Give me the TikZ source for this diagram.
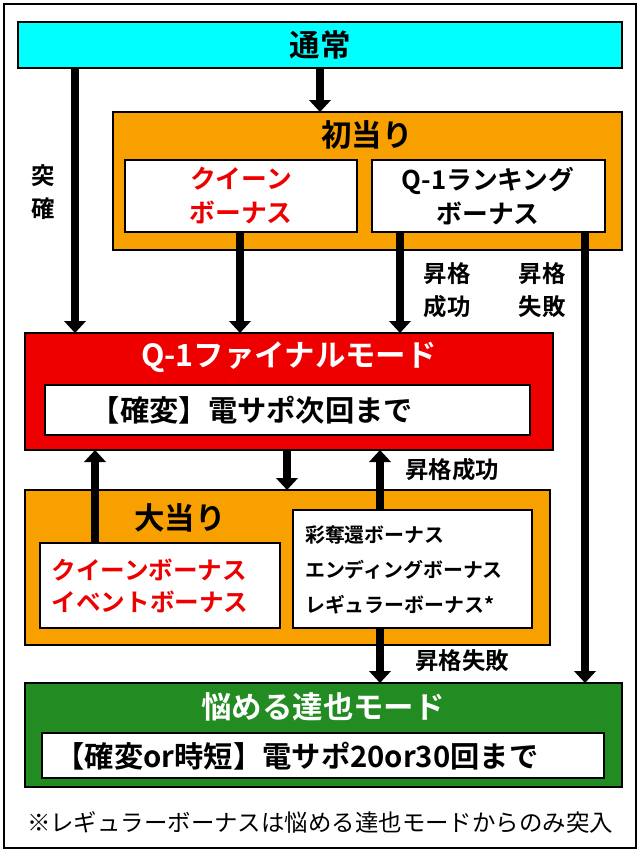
\documentclass[tikz,border=0pt]{standalone}
\usepackage{fontspec}
\setmainfont{Noto Sans CJK JP}[BoldFont={Noto Sans CJK JP Bold}]
\usetikzlibrary{arrows.meta}
\definecolor{qcyan}{RGB}{0,255,255}
\definecolor{qorange}{RGB}{247,160,0}
\definecolor{qred}{RGB}{238,0,0}
\definecolor{qgreen}{RGB}{34,139,34}
\tikzset{
  panel/.style={draw=black, line width=0.6mm, inner sep=0pt},
  inbox/.style={draw=black, line width=0.45mm, fill=white, inner sep=0pt},
  title/.style={font=\fontsize{26}{30}\selectfont\bfseries},
  body/.style={font=\fontsize{22}{29}\selectfont\bfseries, align=center},
  flow/.style={line width=2.2mm, -{Triangle[length=3.6mm,width=6.4mm]}},
  lab/.style={font=\fontsize{20}{28}\selectfont\bfseries, align=center}
}
\begin{document}
\begin{tikzpicture}[x=0.3mm,y=-0.3mm]
\useasboundingbox (0,0) rectangle (640,852);
\fill[white] (0,0) rectangle (640,852);
\draw[line width=0.8mm] (4,4) rectangle (636,848);

% boxes
\draw[panel, fill=qcyan] (18,22) rectangle (622,68);
\node[title] (normal) at (320,45) {通常};
\draw[panel, fill=qorange] (113,112) rectangle (622,250);
\node[title] (first) at (367,135) {初当り};
\draw[inbox] (125,160) rectangle (357,232);
\node[body, text=qred] (queen) at (241,196) {クイーン\\ボーナス};
\draw[inbox] (372,160) rectangle (605,232);
\node[body] (rank) at (488,196) {Q-1ランキング\\ボーナス};

\draw[panel, fill=qred] (25,333) rectangle (553,450);
\node[title, text=white] (final) at (289,357) {Q-1ファイナルモード};
\draw[inbox] (45,385) rectangle (530,435);
\node[body, font=\fontsize{25}{30}\selectfont\bfseries] (finalsub) at (252,410) {【確変】電サポ次回まで};

\draw[panel, fill=qorange] (25,490) rectangle (550,645);
\node[title] (big) at (180,518) {大当り};
\draw[inbox] (40,543) rectangle (280,628);
\node[body, text=qred, align=left, font=\fontsize{21}{28}\selectfont\bfseries] (bigleft) at (150,586) {クイーンボーナス\\イベントボーナス};
\draw[inbox] (293,510) rectangle (532,628);
\node[body, align=left, font=\fontsize{17}{30}\selectfont\bfseries] (bigright) at (404,570) {彩奪還ボーナス\\エンディングボーナス\\レギュラーボーナス*};

\draw[panel, fill=qgreen] (25,683) rectangle (622,787);
\node[title, text=white] (tatsuya) at (323,707) {悩める達也モード};
\draw[inbox] (42,733) rectangle (604,778);
\node[body, font=\fontsize{25}{30}\selectfont\bfseries] (tatsuyasub) at (297,756) {【確変or時短】電サポ20or30回まで};

\node[font=\fontsize{20}{24}\selectfont] (note) at (320,822) {※レギュラーボーナスは悩める達也モードからのみ突入};

% arrows
\coordinate (a1) at (320,68);  \coordinate (a1e) at (320,112);
\draw[flow] (a1) -- (a1e);
\coordinate (b1) at (75,68);   \coordinate (b1e) at (75,333);
\draw[flow] (b1) -- (b1e);
\node[lab] (toku) at (43,192) {突\\確};
\coordinate (c1) at (240,232); \coordinate (c1e) at (240,333);
\draw[flow] (c1) -- (c1e);
\coordinate (d1) at (400,232); \coordinate (d1e) at (400,333);
\draw[flow] (d1) -- (d1e);
\node[lab] (up1) at (447,290) {昇格\\成功};
\coordinate (e1) at (585,232); \coordinate (e1e) at (585,683);
\draw[flow] (e1) -- (e1e);
\node[lab] (down1) at (542,290) {昇格\\失敗};
\coordinate (f1) at (95,543);  \coordinate (f1e) at (95,450);
\draw[flow] (f1) -- (f1e);
\coordinate (g1) at (287,450); \coordinate (g1e) at (287,490);
\draw[flow] (g1) -- (g1e);
\coordinate (h1) at (380,510); \coordinate (h1e) at (380,450);
\draw[flow] (h1) -- (h1e);
\node[lab] (up2) at (452,470) {昇格成功};
\coordinate (i1) at (380,628); \coordinate (i1e) at (380,683);
\draw[flow] (i1) -- (i1e);
\node[lab] (down2) at (462,661) {昇格失敗};
\end{tikzpicture}
\end{document}
